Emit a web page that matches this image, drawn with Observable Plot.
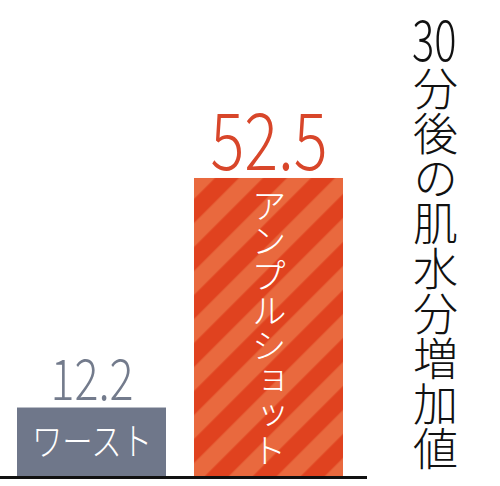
<!DOCTYPE html>
<html><head><meta charset="utf-8">
<script src="https://cdn.jsdelivr.net/npm/d3@7"></script>
<script src="https://cdn.jsdelivr.net/npm/@observablehq/plot@0.6"></script>
<style>
body{margin:0;background:#fff;}
#wrap{position:relative;width:500px;height:486px;}
.ttl{position:absolute;font-family:"Noto Sans CJK JP",sans-serif;font-weight:300;color:#111;white-space:nowrap;}
#tnum{left:412px;top:8px;width:46px;font-size:57px;line-height:57px;}
#tnum span{display:inline-block;transform:scaleX(0.73);transform-origin:left center;}
#trest{left:412px;top:66px;writing-mode:vertical-rl;font-size:45px;line-height:46px;}
</style></head><body><div id="wrap"><div id="tnum" class="ttl"><span></span></div><div id="trest" class="ttl"></div></div>
<script>
const categories = ["ワースト", "アンプルショット"];
const values = [12.2, 52.5];
const valueLabels = ["12.2", "52.5"];
const titleNumber = "30";
const titleRest = "分後の肌水分増加値";

const data = categories.map((c, i) => ({category: c, value: values[i], label: valueLabels[i]}));
const font = "Noto Sans CJK JP";

const chart = Plot.plot({
  width: 500, height: 486,
  marginLeft: 0, marginRight: 133, marginTop: 0, marginBottom: 9,
  style: {background: "#fff", fontFamily: font},
  x: {domain: categories, paddingInner: 0.157, paddingOuter: 0.1094, align: 0.41, axis: null},
  y: {domain: [0, 83.75], axis: null},
  color: {domain: categories, range: ["#6f778a", "url(#stripes)"]},
  marks: [
    Plot.barY(data, {x: "category", y: "value", fill: "category"}),
    Plot.ruleY([0], {stroke: "#111", strokeWidth: 3}),
    Plot.text(data, {filter: d => d.category === categories[0], x: "category", y: "value", text: "label",
      lineAnchor: "bottom", dy: -8, fill: "#737b8c", fontSize: 56, fontWeight: 300, fontFamily: font}),
    Plot.text(data, {filter: d => d.category === categories[1], x: "category", y: "value", text: "label",
      lineAnchor: "bottom", dy: -8, fill: "#d8462a", fontSize: 79, fontWeight: 300, fontFamily: font}),
    Plot.text(data, {filter: d => d.category === categories[0], x: "category", y: d => d.value / 2, text: "category",
      lineAnchor: "middle", fill: "#fff", fontSize: 38, fontWeight: 300, fontFamily: font}),
    Plot.text(data, {filter: d => d.category === categories[1], x: "category", y: d => d.value / 2, text: "category",
      lineAnchor: "bottom", fill: "#fff", fontSize: 35, fontWeight: 300, fontFamily: font})
  ]
});

// stripe pattern for the highlighted bar
const svg = d3.select(chart);
const defs = svg.insert("defs", ":first-child");
const P = 33.94;
const pat = defs.append("pattern").attr("id", "stripes").attr("patternUnits", "userSpaceOnUse")
  .attr("width", P).attr("height", P).attr("patternTransform", "rotate(45)");
pat.append("rect").attr("width", P).attr("height", P).attr("fill", "#e0421f");
pat.append("rect").attr("x", 23.35).attr("width", P / 2).attr("height", P).attr("fill", "#e9693e");
pat.append("rect").attr("x", 23.35 - P).attr("width", P / 2).attr("height", P).attr("fill", "#e9693e");

const groups = svg.selectAll("g[aria-label=text]").nodes();
// condensed horizontal labels
[0, 1, 2].forEach(i => d3.select(groups[i]).selectAll("text")
  .attr("transform", function() { return (this.getAttribute("transform") || "") + " scale(0.8,1)"; }));
// vertical label
d3.select(groups[3]).selectAll("text").style("writing-mode", "vertical-rl");

document.getElementById("wrap").prepend(chart);
document.querySelector("#tnum span").textContent = titleNumber;
document.getElementById("trest").textContent = titleRest;
</script></body></html>
